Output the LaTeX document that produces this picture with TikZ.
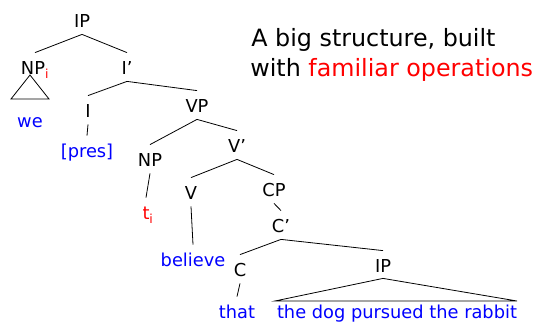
\documentclass[tikz,border=0pt]{standalone}
\usepackage{fontspec}
\setmainfont{DejaVu Sans}
\definecolor{wordblue}{RGB}{0,0,255}
\definecolor{tracered}{RGB}{255,0,0}

\def\catsize{17.8}

\tikzset{
  cat/.style={inner sep=0pt, text height=13pt, text depth=0pt, anchor=base,
              font=\fontsize{\catsize}{20}\selectfont},
  word/.style={cat, text=wordblue},
  headline/.style={inner sep=0pt, anchor=base west, font=\fontsize{23.8}{30}\selectfont},
}

\begin{document}
\begin{tikzpicture}[x=1pt, y=-1pt, line width=0.8pt]
            \useasboundingbox (0, 0) rectangle (536, 323);
            % categories
            \node[cat] (ip)    at (82, 28)   {IP};
            \node[cat] (npi)   at (35, 75)   {NP\textsubscript{\color{tracered}i}};
            \node[cat] (ibar)  at (127, 75)  {I’};
            \node[cat] (i)     at (88, 118)  {I};
            \node[cat] (vp)    at (197, 113) {VP};
            \node[cat] (np)    at (150, 167) {NP};
            \node[cat] (vbar)  at (237, 153) {V’};
            \node[cat] (v)     at (191, 200) {V};
            \node[cat] (cp)    at (274, 197) {CP};
            \node[cat] (cbar)  at (281, 233) {C’};
            \node[cat] (c)     at (240, 277) {C};
            \node[cat] (ipx)   at (383, 273) {IP};
            % words
            \node[word] (we)      at (30, 128)  {we};
            \node[word] (pres)    at (87, 158)  {[pres]};
            \node[cat, text=tracered] (trace) at (146, 220) {t\rlap{\textsubscript{i}}};
            \node[word] (believe) at (193, 267) {believe};
            \node[word] (that)    at (237, 319) {that};
            \node[word] (clause)  at (397, 319) {the dog pursued the rabbit};
            % branches
            \foreach \a/\b in {ip/npi, ip/ibar, ibar/i, ibar/vp, i/pres, vp/np, vp/vbar,
                               np/trace, vbar/v, vbar/cp, v/believe, cp/cbar,
                               cbar/c, cbar/ipx, c/that}
                \draw ([yshift=-6pt]\a.south) -- ([yshift=9pt]\b.north);
            % triangles
            \draw (30, 75) -- (11, 99) -- (49, 99) -- cycle;
            \draw ([yshift=-5pt]ipx.south) -- (275, 301) -- (517, 301) -- cycle;
            % headline
            \node[headline] (line1) at (251, 47) {A big structure, built};
            \node[headline] (line2) at (250, 77) {with \textcolor{tracered}{familiar operations}};
        \end{tikzpicture}
\end{document}
